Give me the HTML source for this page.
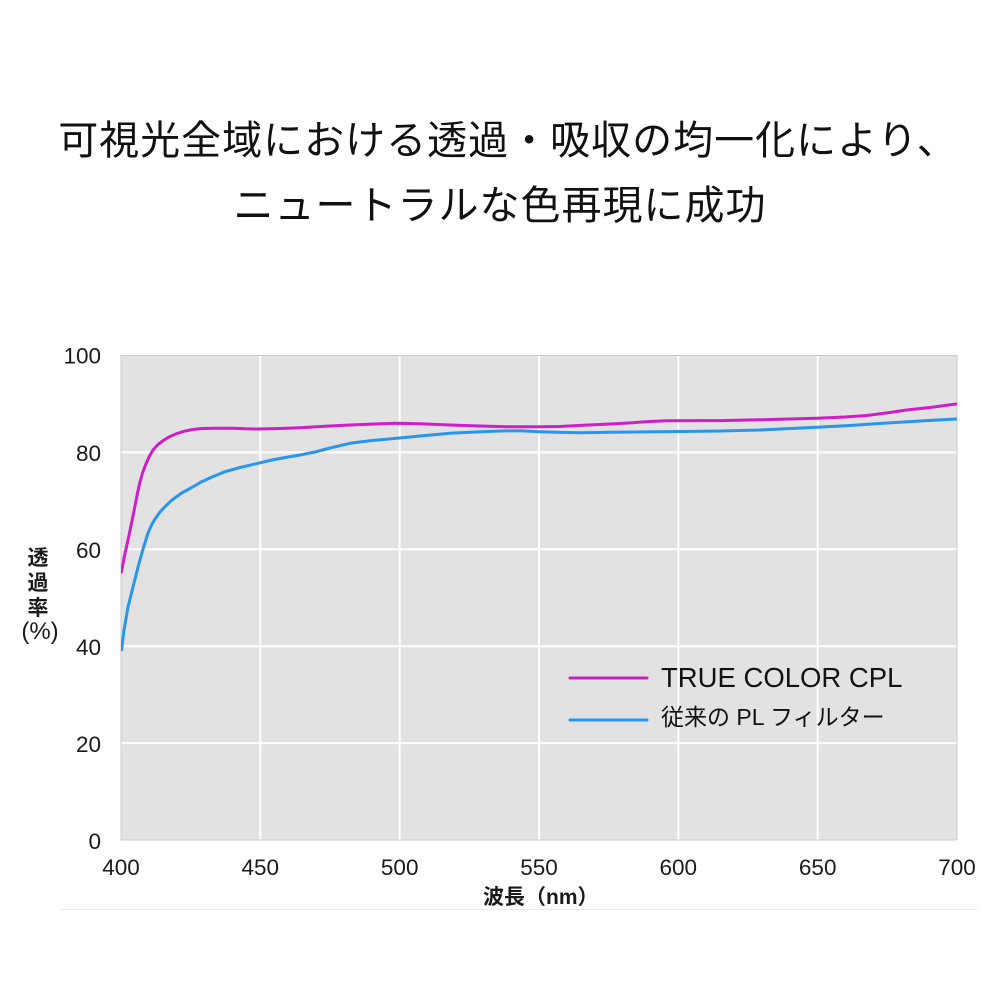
<!DOCTYPE html>
<html>
<head>
<meta charset="utf-8">
<style>
html,body{margin:0;padding:0;background:#fff;}
svg{display:block;}
</style>
</head>
<body>
<svg width="1000" height="1000" viewBox="0 0 1000 1000" xmlns="http://www.w3.org/2000/svg">
<rect x="0" y="0" width="1000" height="1000" fill="#ffffff"/>
<!-- Title -->
<g font-family="'Liberation Sans','Noto Sans CJK JP',sans-serif" font-size="40" fill="#111" text-anchor="middle" font-weight="normal" letter-spacing="1">
<text x="508" y="154">可視光全域における透過・吸収の均一化により、</text>
<text x="500" y="219">ニュートラルな色再現に成功</text>
</g>
<!-- Plot area -->
<rect x="121" y="355.5" width="836" height="484.5" fill="#e2e2e2" stroke="#cdcdcd" stroke-width="1"/>
<g stroke="#ffffff" stroke-width="2">
<line x1="260.3" y1="356" x2="260.3" y2="839.5"/>
<line x1="399.7" y1="356" x2="399.7" y2="839.5"/>
<line x1="539" y1="356" x2="539" y2="839.5"/>
<line x1="678.3" y1="356" x2="678.3" y2="839.5"/>
<line x1="817.7" y1="356" x2="817.7" y2="839.5"/>
<line x1="121.5" y1="452.4" x2="956.5" y2="452.4"/>
<line x1="121.5" y1="549.3" x2="956.5" y2="549.3"/>
<line x1="121.5" y1="646.2" x2="956.5" y2="646.2"/>
<line x1="121.5" y1="743.1" x2="956.5" y2="743.1"/>
</g>
<rect x="121" y="355.5" width="836" height="484.5" fill="none" stroke="#cdcdcd" stroke-width="1"/>
<defs><clipPath id="pc"><rect x="121" y="355.5" width="836" height="484.5"/></clipPath></defs>
<g clip-path="url(#pc)" fill="none" stroke-width="3" stroke-linejoin="round" stroke-linecap="round">
<polyline stroke="#2a95ee" points="121.5,650 124,630 128,607 133,587 138,567 143,549 148,533 152,524 155,519 160,512 165,506.7 172,500 181.7,493 190,488.5 201.7,481.7 212,477 225,471.7 240,467.5 258,463.3 272,460 288,457 300,455 315,452 330,448 350,443.3 372,440.5 396.7,438.3 420,436 450,433.3 475,432 500,431 520,430.8 540,431.7 560,432.4 583,432.7 610,432.3 633,432 680,431.5 720,431 760,430 816.7,427.3 850,425.5 883,423.3 920,421 956,419"/>
<polyline stroke="#cc1fc8" points="121.5,572 124,558 128,540 132,521 135,506 137.5,493 140,482 142.5,473 145.5,465 149,457 153,450 158,444.5 164,440 170,436.5 177,433.5 184,431.3 192,429.6 201.7,428.5 215,428.2 231.7,428.3 245,428.8 258,429 280,428.5 300,427.7 325,426.3 350,425 375,424 396.7,423.3 420,423.8 450,425 480,426 506.7,426.7 540,426.8 560,426.5 583,425.2 610,424 633,422.7 650,421.5 666.7,420.8 700,420.6 720,420.6 760,419.8 816.7,418.3 845,417 866.7,415.5 890,412.5 906.7,410 930,407.5 956,404"/>
</g>
<!-- Y ticks -->
<g font-family="'Liberation Sans',sans-serif" font-size="22.5" fill="#1a1a1a" text-anchor="end">
<text x="101" y="363.5">100</text>
<text x="101" y="461">80</text>
<text x="101" y="558">60</text>
<text x="101" y="655">40</text>
<text x="101" y="752">20</text>
<text x="101" y="849">0</text>
</g>
<!-- X ticks -->
<g font-family="'Liberation Sans',sans-serif" font-size="22.5" fill="#1a1a1a" text-anchor="middle">
<text x="121" y="875">400</text>
<text x="260.3" y="875">450</text>
<text x="399.7" y="875">500</text>
<text x="539" y="875">550</text>
<text x="678.3" y="875">600</text>
<text x="817.7" y="875">650</text>
<text x="957" y="875">700</text>
</g>
<!-- Axis titles -->
<g font-family="'Liberation Sans','Noto Sans CJK JP',sans-serif" font-size="21" fill="#1a1a1a" font-weight="bold">
<text x="483" y="904">波長（nm）</text>
<text x="38" y="565" text-anchor="middle">透</text>
<text x="38" y="590" text-anchor="middle">過</text>
<text x="38" y="615" text-anchor="middle">率</text>
<text x="40" y="639" text-anchor="middle" font-weight="normal" font-size="24">(%)</text>
</g>
<!-- Legend -->
<line x1="570" y1="678" x2="647" y2="678" stroke="#cc1fc8" stroke-width="3" stroke-linecap="round"/>
<line x1="570" y1="720" x2="647" y2="720" stroke="#2a95ee" stroke-width="3" stroke-linecap="round"/>
<text x="661" y="687" font-family="'Liberation Sans',sans-serif" font-size="27.5" fill="#111">TRUE COLOR CPL</text>
<text x="661" y="725" font-family="'Liberation Sans','Noto Sans CJK JP',sans-serif" font-size="23" fill="#111">従来の PL フィルター</text>
<!-- separator -->
<line x1="60" y1="909.5" x2="978" y2="909.5" stroke="#ececec" stroke-width="1"/>
</svg>
</body>
</html>
